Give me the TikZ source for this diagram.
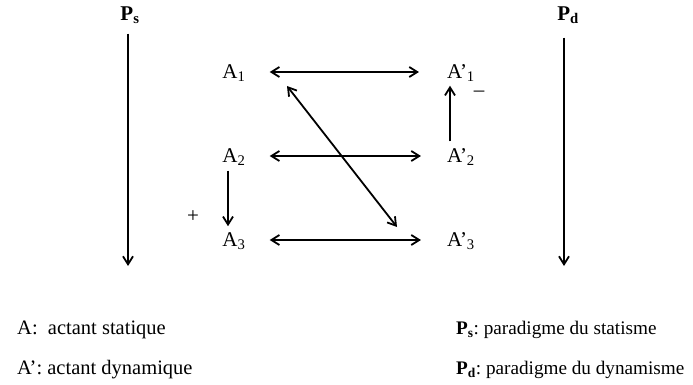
\documentclass[tikz,border=0pt]{standalone}
\usepackage{fontspec}
\setmainfont{Liberation Serif}
\usetikzlibrary{arrows.meta}
\begin{document}
\begin{tikzpicture}[x=1pt,y=-1pt,
  every node/.style={font=\fontsize{21}{24}\selectfont, inner sep=0pt},
  lbl/.style={anchor=center},
  leg/.style={anchor=base west, font=\fontsize{20.5}{24}\selectfont},
  legr/.style={anchor=base west, font=\fontsize{19.2}{24}\selectfont},
  arr/.style={line width=1.8pt, -{Straight Barb[length=8pt,width=10pt,line width=1.8pt]}},
  darr/.style={line width=1.8pt, {Straight Barb[length=8pt,width=10pt,line width=1.8pt]}-{Straight Barb[length=8pt,width=10pt,line width=1.8pt]}}
]
\useasboundingbox (0,0) rectangle (693,385);
% paradigm labels
\node[lbl] (Ps) at (130,15) {\textbf{P\textsubscript{s}}};
\node[lbl] (Pd) at (568,15) {\textbf{P\textsubscript{d}}};
\coordinate (PsEnd) at (128,266);
\coordinate (PdEnd) at (564,266);
\draw[arr] (Ps.south -| PsEnd) ++(0,10) coordinate (PsTop) -- (PsEnd);
\draw[arr] (Pd.south -| PdEnd) ++(0,14) coordinate (PdTop) -- (PdEnd);
% actants
\node[lbl] (A1) at (234,73) {A\textsubscript{1}};
\node[lbl] (A2) at (234,157) {A\textsubscript{2}};
\node[lbl] (A3) at (234,241) {A\textsubscript{3}};
\node[lbl] (B1) at (461,73) {A’\textsubscript{1}};
\node[lbl] (B2) at (461,157) {A’\textsubscript{2}};
\node[lbl] (B3) at (461,241) {A’\textsubscript{3}};
% horizontal arrows
\draw[darr, shorten <=24pt, shorten >=28pt] (A1.east |- 0,72) -- (B1.west |- 0,72);
\draw[darr, shorten <=24pt, shorten >=26pt] (A2.east |- 0,156) -- (B2.west |- 0,156);
\draw[darr, shorten <=24pt, shorten >=26pt] (A3.east |- 0,240) -- (B3.west |- 0,240);
% vertical arrows
\draw[arr] ([xshift=-6pt,yshift=-5pt]A2.south) -- ([xshift=-6pt,yshift=6pt]A3.north);
\draw[arr] ([xshift=-11pt,yshift=7pt]B2.north) -- ([xshift=-11pt,yshift=-4pt]B1.south);
% diagonal
\coordinate (D1) at (287,86);
\coordinate (D2) at (397,227);
\draw[darr] (D1) -- (D2);
% signs
\node (plus) at (193,217) {+};
\node (minus) at (479,94) {–};
% legend
\node[leg] (L1) at (17,334) {A:\ \ actant statique};
\node[leg] (L2) at (17,374) {A’: actant dynamique};
\node[legr] (L3) at (456,334) {\textbf{P\textsubscript{s}}:~paradigme du statisme};
\node[legr] (L4) at (456,374) {\textbf{P\textsubscript{d}}:~paradigme du dynamisme};
\end{tikzpicture}
\end{document}
